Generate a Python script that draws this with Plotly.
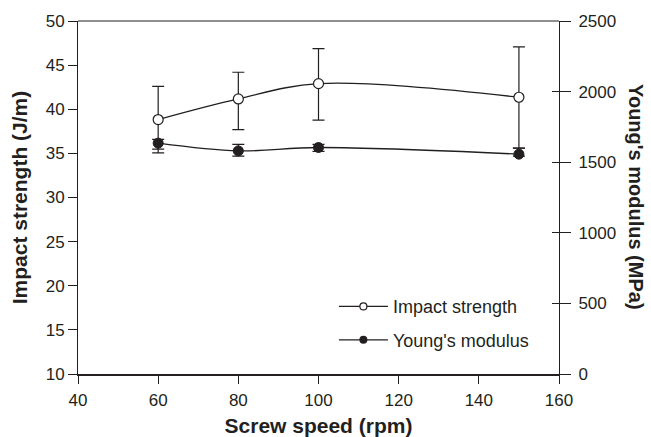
import plotly.graph_objects as go

screw_speed = [60, 80, 100, 150]
impact = [38.83, 41.17, 42.9, 41.36]
impact_err_plus = [3.77, 3.02, 3.97, 5.7]
impact_err_minus = [3.78, 3.47, 4.14, 5.76]
modulus = [1635, 1580, 1604, 1557]
modulus_err_plus = [26, 46, 22, 42]
modulus_err_minus = [43, 37, 28, 14]

ink = "#231f20"
font_family = "Arial, Liberation Sans, sans-serif"

fig = go.Figure()

fig.add_trace(go.Scatter(
    x=screw_speed, y=impact, mode="lines+markers", showlegend=False,
    line=dict(color=ink, width=1.3, shape="spline", smoothing=1),
    marker=dict(symbol="circle", size=10, color="white", line=dict(color=ink, width=1.2)),
    error_y=dict(type="data", symmetric=False, array=impact_err_plus,
                 arrayminus=impact_err_minus, color=ink, thickness=1.2, width=6),
))
fig.add_trace(go.Scatter(
    x=screw_speed, y=modulus, mode="lines+markers", showlegend=False, yaxis="y2",
    line=dict(color=ink, width=1.3, shape="spline", smoothing=1),
    marker=dict(symbol="circle", size=10, color=ink, line=dict(color=ink, width=1)),
    error_y=dict(type="data", symmetric=False, array=modulus_err_plus,
                 arrayminus=modulus_err_minus, color=ink, thickness=1.2, width=6),
))
# legend-only entries with small markers
fig.add_trace(go.Scatter(
    x=[None], y=[None], mode="lines+markers", name="Impact strength", legendgroup="a",
    line=dict(color=ink, width=1.2),
    marker=dict(symbol="circle", size=7, color="white", line=dict(color=ink, width=1.2)),
))
fig.add_trace(go.Scatter(
    x=[None], y=[None], mode="lines+markers", name="Young's modulus", legendgroup="b",
    line=dict(color=ink, width=1.2),
    marker=dict(symbol="circle", size=8, color=ink),
))
# dummy trace to activate yaxis3 (inside ticks on right axis)
fig.add_trace(go.Scatter(x=[None], y=[None], yaxis="y3", showlegend=False, hoverinfo="skip"))

fig.update_layout(
    width=651, height=437,
    margin=dict(l=78, r=92, t=21, b=63),
    paper_bgcolor="white", plot_bgcolor="white",
    font=dict(family=font_family, size=17, color=ink),
    xaxis=dict(range=[40, 160], dtick=20, ticks="outside", ticklen=8, tickwidth=1,
               tickcolor=ink, showline=True, linecolor=ink, linewidth=2, automargin=False,
               showgrid=False, zeroline=False, tickfont=dict(size=17), ticklabelstandoff=2,
               title=dict(text="<b>Screw speed (rpm)</b>", font=dict(size=21), standoff=10)),
    yaxis=dict(range=[10, 50], dtick=5, ticks="outside", ticklen=9, tickwidth=1,
               tickcolor=ink, showline=True, linecolor=ink, linewidth=1, automargin=False,
               showgrid=False, zeroline=False, tickfont=dict(size=17),
               title=dict(text="<b>Impact strength (J/m)</b>", font=dict(size=21), standoff=12)),
    yaxis2=dict(range=[0, 2500], dtick=500, overlaying="y", side="right", automargin=False,
                ticks="outside", ticklen=11, tickwidth=1, tickcolor=ink, ticklabelstandoff=4,
                showline=True, linecolor=ink, linewidth=1, tickfont=dict(size=17),
                showgrid=False, zeroline=False),
    yaxis3=dict(range=[0, 2500], dtick=500, overlaying="y", side="right", anchor="x",
                automargin=False,
                ticks="inside", ticklen=7, tickwidth=1, tickcolor=ink,
                showticklabels=False, showline=False, showgrid=False, zeroline=False),
    legend=dict(x=0.532, y=0.243, xanchor="left", yanchor="top",
                bgcolor="rgba(0,0,0,0)", font=dict(size=18),
                traceorder="grouped", tracegroupgap=7, itemwidth=49),
    shapes=[dict(type="line", xref="paper", yref="paper", x0=0, x1=1, y0=1, y1=1,
                 line=dict(color=ink, width=1.2))],
    annotations=[dict(text="<b>Young's modulus (MPa)</b>", xref="paper", yref="paper",
                      x=1.161, y=0.5, textangle=90, showarrow=False,
                      font=dict(size=20, color=ink), xanchor="center", yanchor="middle")],
)

fig.write_html("out.html")
